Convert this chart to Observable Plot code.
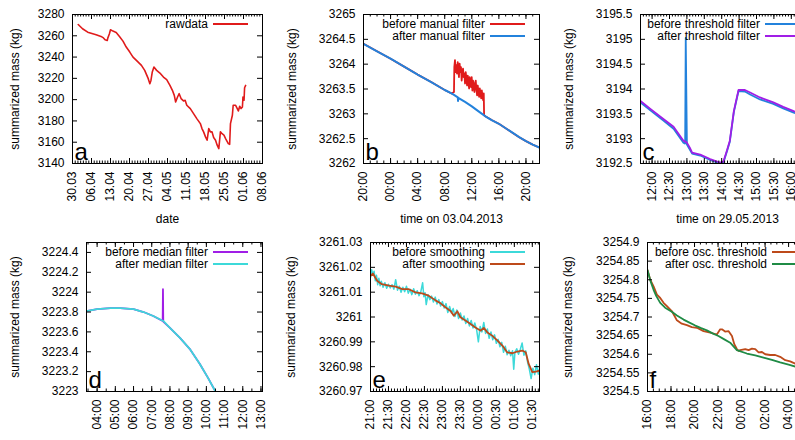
<!DOCTYPE html>
<html>
<head>
<meta charset="utf-8">
<script src="https://cdn.jsdelivr.net/npm/d3@7"></script>
<script src="https://cdn.jsdelivr.net/npm/@observablehq/plot@0.6"></script>
<style>
  html, body { margin: 0; padding: 0; background: #fff; }
  #page { position: relative; width: 795px; height: 440px; overflow: hidden; background: #fff;
          font-family: "Liberation Sans", Arial, Helvetica, sans-serif; }
  .panel { position: absolute; }
  .panel svg { display: block; max-width: none; }
  .key { position: absolute; font-size: 12px; line-height: 12px; white-space: nowrap; text-align: right; color: #000; }
  .swatch { position: absolute; height: 2px; }
</style>
</head>
<body>
<div id="page"></div>
<script>
// ---------- data ----------
// a: raw summarized mass, [days since 30.03.2013, kg]
const rawdata = [[2.1,3270.6],[3.7,3266.6],[5.6,3263.4],[8.7,3261.0],[10.5,3259.4],[11.4,3258.0],[12.0,3256.3],[12.8,3255.6],[13.0,3257.8],[13.6,3261.9],[14.0,3265.6],[14.9,3264.4],[16.1,3263.1],[17.3,3259.4],[18.6,3255.0],[19.8,3249.4],[21.1,3244.7],[22.3,3240.0],[24.2,3235.3],[25.4,3232.2],[26.6,3227.5],[27.9,3219.7],[28.5,3215.0],[28.9,3218.0],[29.4,3226.0],[30.0,3230.6],[31.0,3227.5],[32.2,3225.0],[33.5,3221.2],[34.7,3218.8],[35.9,3213.4],[36.8,3208.8],[37.5,3204.0],[38.0,3197.8],[38.7,3202.5],[39.3,3205.6],[40.0,3201.0],[40.9,3198.8],[41.5,3199.4],[42.1,3194.7],[43.4,3191.6],[44.6,3186.9],[45.8,3182.2],[47.1,3177.5],[47.7,3172.8],[48.3,3169.7],[49.0,3165.0],[49.6,3161.9],[50.2,3172.8],[50.8,3169.7],[51.4,3169.7],[52.0,3164.4],[52.7,3161.9],[53.3,3157.2],[53.9,3154.0],[54.5,3169.7],[55.1,3168.0],[55.8,3166.6],[56.4,3163.4],[57.4,3158.7],[57.9,3158.0],[58.2,3177.5],[58.9,3185.3],[59.2,3194.7],[60.1,3194.7],[60.7,3191.6],[61.1,3189.4],[61.6,3193.8],[62.1,3191.6],[62.6,3193.1],[62.8,3202.5],[63.2,3199.4],[63.4,3211.2],[63.8,3213.4]];
const aTickLabels = ["30.03","06.04","13.04","20.04","27.04","04.05","11.05","18.05","25.05","01.06","08.06"];
const aYTicks = [3140,3160,3180,3200,3220,3240,3260,3280];

// b: [minutes since 02.04.2013 20:00, kg]
const bAfterManual = [[0,3264.41],[120,3264.26],[240,3264.11],[360,3263.95],[480,3263.79],[600,3263.64],[720,3263.48],[780,3263.41],[802,3263.38],[836,3263.33],[838,3263.26],[840,3263.32],[900,3263.24],[960,3263.15],[1020,3263.05],[1069,3262.97],[1080,3262.95],[1140,3262.87],[1200,3262.80],[1260,3262.71],[1320,3262.62],[1380,3262.53],[1440,3262.45],[1500,3262.38],[1560,3262.32]];
const bRemovedBlock = [[802,3263.44],[805,3263.94],[811,3264.08],[817,3263.84],[823,3263.98],[829,3263.81],[835,3264.04],[841,3263.88],[846,3263.74],[852,3264.01],[858,3263.84],[864,3263.94],[870,3263.67],[876,3263.84],[882,3263.91],[888,3263.74],[894,3263.81],[900,3263.61],[906,3263.84],[912,3263.71],[918,3263.57],[924,3263.77],[930,3263.67],[936,3263.51],[941,3263.74],[947,3263.64],[953,3263.54],[959,3263.74],[965,3263.47],[971,3263.67],[977,3263.57],[983,3263.44],[989,3263.61],[995,3263.67],[1001,3263.47],[1007,3263.37],[1013,3263.57],[1019,3263.44],[1025,3263.34],[1031,3263.51],[1037,3263.41],[1043,3263.31],[1049,3263.47],[1055,3263.34],[1061,3263.27],[1066,3263.41],[1069,3262.97]];
const bTickLabels = ["20:00","00:00","04:00","08:00","12:00","16:00","20:00"];
const bYTicks = [3262,3262.5,3263,3263.5,3264,3264.5,3265];

// c: [minutes since 29.05.2013 11:40, kg]
const cBeforeThreshold = [[0,3193.73],[17,3193.57],[40,3193.36],[57,3193.20],[74,3192.92],[77,3192.90],[78,3195.03],[80,3192.88],[85,3192.78],[89,3192.70],[103,3192.66],[120,3192.57],[137,3192.50],[143,3192.52],[149,3192.74],[154,3192.94],[161,3193.54],[169,3193.96],[180,3193.95],[189,3193.89],[206,3193.79],[229,3193.70],[246,3193.61],[263,3193.53],[280,3193.45],[300,3193.37]];
const cAfterThreshold = [[0,3193.76],[17,3193.60],[40,3193.39],[57,3193.24],[74,3192.96],[80,3192.92],[85,3192.82],[89,3192.72],[103,3192.68],[120,3192.59],[137,3192.52],[143,3192.54],[149,3192.76],[154,3192.96],[161,3193.56],[169,3193.98],[180,3193.98],[189,3193.93],[206,3193.83],[229,3193.73],[246,3193.64],[263,3193.56],[280,3193.48],[300,3193.40]];
const cTickLabels = ["12:00","12:30","13:00","13:30","14:00","14:30","15:00","15:30","16:00","16:30"];
const cYTicks = [3192.5,3193,3193.5,3194,3194.5,3195,3195.5];

// d: [minutes since 03:25, kg]
const dAfterMedian = [[0,3223.81],[35,3223.83],[79,3223.84],[111,3223.84],[155,3223.83],[188,3223.80],[220,3223.76],[253,3223.71],[275,3223.64],[308,3223.54],[340,3223.43],[373,3223.28],[400,3223.14],[425,3223.00],[440,3222.92]];
const dOutlier = [[251,3223.71],[252,3224.03],[254,3223.70]];
const dTickLabels = ["04:00","05:00","06:00","07:00","08:00","09:00","10:00","11:00","12:00","13:00"];
const dYTicks = [3223,3223.2,3223.4,3223.6,3223.8,3224,3224.2,3224.4];

// e: [minutes since 21:00, kg]
const eBeforeSmoothing = [[0,3261.0160],[2,3261.0190],[4,3261.0170],[6,3261.0184],[8,3261.0146],[10,3261.0168],[12,3261.0130],[14,3261.0156],[16,3261.0126],[18,3261.0144],[21,3261.0120],[24,3261.0138],[27,3261.0116],[30,3261.0132],[33,3261.0117],[36,3261.0130],[39,3261.0112],[42,3261.0150],[45,3261.0108],[48,3261.0124],[51,3261.0100],[54,3261.0120],[57,3261.0102],[60,3261.0124],[63,3261.0096],[66,3261.0112],[69,3261.0090],[72,3261.0114],[75,3261.0092],[78,3261.0106],[81,3261.0086],[84,3261.0102],[87,3261.0138],[89,3261.0082],[91,3261.0098],[93,3261.0050],[96,3261.0090],[99,3261.0070],[102,3261.0084],[105,3261.0060],[108,3261.0080],[111,3261.0052],[114,3261.0070],[117,3261.0044],[120,3261.0062],[123,3261.0036],[126,3261.0054],[129,3261.0018],[132,3261.0042],[135,3261.0016],[138,3261.0034],[141,3261.0002],[144,3261.0028],[147,3260.9994],[150,3261.0016],[153,3260.9988],[156,3261.0004],[159,3260.9974],[162,3260.9994],[165,3260.9964],[168,3260.9986],[171,3260.9956],[174,3260.9976],[177,3260.9950],[180,3260.9900],[183,3260.9962],[186,3260.9940],[189,3260.9978],[192,3260.9934],[195,3260.9952],[198,3260.9914],[201,3260.9940],[204,3260.9908],[207,3260.9928],[210,3260.9894],[213,3260.9910],[216,3260.9880],[219,3260.9898],[222,3260.9858],[225,3260.9882],[228,3260.9848],[231,3260.9866],[234,3260.9844],[237,3260.9864],[239,3260.9790],[241,3260.9858],[244,3260.9872],[247,3260.9850],[250,3260.9870],[253,3260.9895],[256,3260.9846],[259,3260.9864],[262,3260.9820],[265,3260.9790],[268,3260.9752],[271,3260.9794],[274,3260.9768],[277,3260.9808],[280,3260.9770],[282,3260.9792]];
const eAfterSmoothing = [[0,3261.0166],[4,3261.0175],[11,3261.0146],[19,3261.0132],[31,3261.0126],[42,3261.0122],[53,3261.0112],[64,3261.0112],[75,3261.0099],[86,3261.0095],[97,3261.0086],[103,3261.0076],[109,3261.0066],[117,3261.0055],[125,3261.0039],[134,3261.0023],[139,3261.0005],[145,3261.0023],[150,3260.9999],[159,3260.9985],[167,3260.9972],[175,3260.9958],[184,3260.9945],[189,3260.9956],[195,3260.9938],[203,3260.9925],[212,3260.9905],[220,3260.9885],[228,3260.9858],[237,3260.9854],[245,3260.9861],[253,3260.9865],[259,3260.9858],[264,3260.9811],[270,3260.9778],[276,3260.9780],[282,3260.9784]];
const eTickLabels = ["21:00","21:30","22:00","22:30","23:00","23:30","00:00","00:30","01:00","01:30"];
const eYTicks = [3260.97,3260.98,3260.99,3261,3261.01,3261.02,3261.03];

// f: [minutes since 16:00, kg]
const fBeforeOsc = [[0,3254.826],[14,3254.800],[31,3254.782],[48,3254.760],[65,3254.751],[82,3254.738],[99,3254.729],[124,3254.716],[150,3254.691],[175,3254.682],[201,3254.678],[226,3254.673],[252,3254.671],[286,3254.662],[320,3254.658],[354,3254.653],[371,3254.667],[380,3254.667],[396,3254.661],[414,3254.662],[431,3254.649],[443,3254.627],[456,3254.614],[465,3254.609],[473,3254.611],[499,3254.614],[516,3254.611],[533,3254.615],[550,3254.614],[567,3254.605],[584,3254.606],[601,3254.600],[626,3254.598],[652,3254.598],[677,3254.593],[703,3254.584],[728,3254.581],[754,3254.575],[780,3254.572]];
const fAfterOsc = [[0,3254.826],[15,3254.797],[31,3254.773],[45,3254.756],[65,3254.738],[90,3254.725],[124,3254.714],[150,3254.704],[184,3254.693],[214,3254.685],[244,3254.677],[274,3254.670],[303,3254.664],[332,3254.656],[362,3254.649],[392,3254.640],[422,3254.631],[456,3254.611],[507,3254.602],[550,3254.597],[592,3254.591],[635,3254.585],[677,3254.578],[720,3254.572],[780,3254.563]];
const fTickLabels = ["16:00","18:00","20:00","22:00","00:00","02:00","04:00","06:00"];
const fYTicks = [3254.5,3254.55,3254.6,3254.65,3254.7,3254.75,3254.8,3254.85,3254.9];

// ---------- colours ----------
const RED = "#e01b1b", BLUE = "#2382dc", PURPLE = "#a01ee6", CYAN = "#3cd9d9", BROWN = "#bd4a1a", GREEN = "#1f8b45";

// ---------- helpers ----------
const FONT = '"Liberation Sans", Arial, Helvetica, sans-serif';
const MIN = 60000, HOUR = 3600000, DAY = 86400000;
const BOX_H = 149;
const M = {top: 10, right: 10, bottom: 70, left: 100};
const TICK = 5, MINOR = 2.5;

const toSeries = (start, pairs, unit) => pairs.map(([o, v]) => ({t: new Date(start + o * unit), v}));

// "HH:MM" labels in order, rolling over midnight when the clock wraps
function clockTicks(dayStart, labels) {
  let day = dayStart, prev = -1;
  return labels.map(s => {
    const [h, m] = s.split(":").map(Number), mins = h * 60 + m;
    if (mins <= prev) day += DAY;
    prev = mins;
    return new Date(day + mins * MIN);
  });
}

// splice a replaced block back into a cleaned series
function withBlock(clean, block) {
  const lo = block[0][0], hi = block[block.length - 1][0];
  return [...clean.filter(p => p[0] < lo), ...block, ...clean.filter(p => p[0] > hi)];
}

const page = document.getElementById("page");

function drawPanel(cfg) {
  const w = cfg.width, W = M.left + w + M.right, H = M.top + BOX_H + M.bottom;
  const svg = Plot.plot({
    width: W, height: H,
    marginTop: M.top, marginRight: M.right, marginBottom: M.bottom, marginLeft: M.left,
    x: {type: "utc", domain: cfg.xDomain},
    y: {type: "linear", domain: cfg.yDomain},
    style: {fontFamily: FONT, fontSize: "12px", color: "#000", background: "transparent"},
    marks: [
      ...cfg.series.map(s => Plot.line(s.data, {x: "t", y: "v", stroke: s.color, strokeWidth: s.width ?? 1.8, clip: true})),
      Plot.ruleX(cfg.xMinor, {insetTop: BOX_H - MINOR, stroke: "#000"}),
      Plot.ruleX(cfg.xMinor, {insetBottom: BOX_H - MINOR, stroke: "#000"}),
      Plot.ruleX(cfg.xTicks, {insetTop: BOX_H - TICK, stroke: "#000"}),
      Plot.ruleX(cfg.xTicks, {insetBottom: BOX_H - TICK, stroke: "#000"}),
      Plot.ruleY(cfg.yTicks, {insetRight: w - TICK, stroke: "#000"}),
      Plot.ruleY(cfg.yTicks, {insetLeft: w - TICK, stroke: "#000"}),
      Plot.frame({stroke: "#000"}),
      Plot.axisX({ticks: cfg.xTicks, tickFormat: cfg.xFormat, tickRotate: -90, tickSize: 0, tickPadding: 8,
                  label: cfg.xLabel ?? null, labelAnchor: "center", labelOffset: 59, labelArrow: "none"}),
      Plot.axisY({ticks: cfg.yTicks, tickFormat: d3.format(cfg.yFormat), tickSize: 0, tickPadding: 8,
                  label: "summarized mass (kg)", labelAnchor: "center", labelOffset: cfg.labelOffset, labelArrow: "none"}),
      Plot.text([cfg.letter], {frameAnchor: "bottom-left", dx: 2, dy: -4, fontSize: 24,
                               textAnchor: "start", lineAnchor: "bottom", fill: "#000"})
    ]
  });

  const div = document.createElement("div");
  div.className = "panel";
  div.style.left = (cfg.left - M.left) + "px";
  div.style.top = (cfg.top - M.top) + "px";
  div.style.width = W + "px";
  div.style.height = H + "px";
  div.append(svg);

  // key in the upper right corner of the frame
  cfg.series.forEach((s, i) => {
    const cy = M.top + 10 + 12 * i;
    const label = document.createElement("div");
    label.className = "key";
    label.textContent = s.label;
    label.style.right = (M.right + 54) + "px";
    label.style.top = (cy - 6.5) + "px";
    const sw = document.createElement("div");
    sw.className = "swatch";
    sw.style.left = (M.left + w - 49) + "px";
    sw.style.width = "35px";
    sw.style.top = (cy - 1) + "px";
    sw.style.background = s.color;
    div.append(label, sw);
  });
  page.append(div);
}

const hm = d3.utcFormat("%H:%M");

// a — raw data over the season
{
  const start = Date.UTC(2013, 2, 30), end = Date.UTC(2013, 5, 8);
  const parse = d3.utcParse("%d.%m.%Y");
  drawPanel({
    left: 72, top: 14, width: 190, letter: "a", labelOffset: 62,
    xDomain: [new Date(start), new Date(end)], yDomain: [3140, 3280],
    xTicks: aTickLabels.map(s => parse(s + ".2013")), xFormat: d3.utcFormat("%d.%m"),
    xMinor: d3.utcDay.range(new Date(start), new Date(end)),
    yTicks: aYTicks, yFormat: "d", xLabel: "date",
    series: [{label: "rawdata", color: RED, width: 1.6, data: toSeries(start, rawdata, DAY)}]
  });
}

// b — manual filter on 03.04.2013
{
  const start = Date.UTC(2013, 3, 2, 20), end = start + 26 * HOUR;
  drawPanel({
    left: 363, top: 14, width: 176, letter: "b", labelOffset: 76,
    xDomain: [new Date(start), new Date(end)], yDomain: [3262, 3265],
    xTicks: clockTicks(Date.UTC(2013, 3, 2), bTickLabels), xFormat: hm,
    xMinor: d3.utcHour.range(new Date(start), new Date(end)),
    yTicks: bYTicks, yFormat: ".1~f", xLabel: "time on 03.04.2013",
    series: [
      {label: "before manual filter", color: RED, data: toSeries(start, withBlock(bAfterManual, bRemovedBlock), MIN)},
      {label: "after manual filter", color: BLUE, width: 2, data: toSeries(start, bAfterManual, MIN)}
    ]
  });
}

// c — threshold filter on 29.05.2013
{
  const start = Date.UTC(2013, 4, 29, 11, 40), end = start + 300 * MIN;
  drawPanel({
    left: 640, top: 14, width: 174, letter: "c", labelOffset: 76,
    xDomain: [new Date(start), new Date(end)], yDomain: [3192.5, 3195.5],
    xTicks: clockTicks(Date.UTC(2013, 4, 29), cTickLabels), xFormat: hm,
    xMinor: d3.utcMinute.every(5).range(new Date(start), new Date(end)),
    yTicks: cYTicks, yFormat: ".1~f", xLabel: "time on 29.05.2013",
    series: [
      {label: "before threshold filter", color: BLUE, data: toSeries(start, cBeforeThreshold, MIN)},
      {label: "after threshold filter", color: PURPLE, data: toSeries(start, cAfterThreshold, MIN)}
    ]
  });
}

// d — median filter
{
  const day = Date.UTC(2013, 3, 15), start = day + (3 * 60 + 25) * MIN, end = start + 580 * MIN;
  const before = [...dAfterMedian, ...dOutlier].sort((p, q) => p[0] - q[0]);
  drawPanel({
    left: 86, top: 242, width: 176, letter: "d", labelOffset: 76,
    xDomain: [new Date(start), new Date(end)], yDomain: [3223, 3224.5],
    xTicks: clockTicks(day, dTickLabels), xFormat: hm,
    xMinor: d3.utcMinute.every(30).range(new Date(start), new Date(end)),
    yTicks: dYTicks, yFormat: ".1~f",
    series: [
      {label: "before median filter", color: PURPLE, data: toSeries(start, before, MIN)},
      {label: "after median filter", color: CYAN, data: toSeries(start, dAfterMedian, MIN)}
    ]
  });
}

// e — smoothing
{
  const day = Date.UTC(2013, 3, 20), start = day + 21 * HOUR, end = start + 282 * MIN;
  drawPanel({
    left: 370, top: 242, width: 169, letter: "e", labelOffset: 84,
    xDomain: [new Date(start), new Date(end)], yDomain: [3260.97, 3261.03],
    xTicks: clockTicks(day, eTickLabels), xFormat: hm,
    xMinor: d3.utcMinute.every(5).range(new Date(start), new Date(end)),
    yTicks: eYTicks, yFormat: ".2~f",
    series: [
      {label: "before smoothing", color: CYAN, width: 1.5, data: toSeries(start, eBeforeSmoothing, MIN)},
      {label: "after smoothing", color: BROWN, data: toSeries(start, eAfterSmoothing, MIN)}
    ]
  });
}

// f — oscillation threshold
{
  const day = Date.UTC(2013, 4, 10), start = day + 16 * HOUR, end = start + 888 * MIN;
  drawPanel({
    left: 647, top: 242, width: 174, letter: "f", labelOffset: 84,
    xDomain: [new Date(start), new Date(end)], yDomain: [3254.5, 3254.9],
    xTicks: clockTicks(day, fTickLabels), xFormat: hm,
    xMinor: d3.utcMinute.every(30).range(new Date(start), new Date(end)),
    yTicks: fYTicks, yFormat: ".2~f",
    series: [
      {label: "before osc. threshold", color: BROWN, data: toSeries(start, fBeforeOsc, MIN)},
      {label: "after osc. threshold", color: GREEN, data: toSeries(start, fAfterOsc, MIN)}
    ]
  });
}
</script>
</body>
</html>
